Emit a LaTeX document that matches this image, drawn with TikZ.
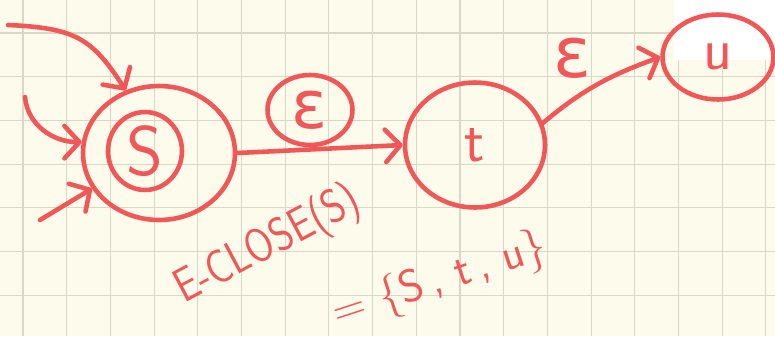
\documentclass[tikz,border=0pt]{standalone}
\usepackage{fontspec}
\usetikzlibrary{arrows.meta,positioning,shapes.geometric}
\newfontfamily\greek{DejaVu Sans}
\definecolor{paper}{HTML}{FDFBEC}
\definecolor{gridline}{HTML}{D9D7C8}
\definecolor{pen}{HTML}{F25757}
\newcommand{\hand}[1]{\fontsize{#1}{#1}\selectfont\sffamily}
\tikzset{
 every node/.append style={text=pen,inner sep=0pt},
 ink/.style={draw=pen,line width=2.6pt,line cap=round,line join=round},
 state/.style={ink,ellipse},
 edge/.style={ink,-{Straight Barb[length=3mm,width=6.5mm,round]}},
 grid line/.style={draw=gridline,line width=.6pt},
 scrawl/.style={font=\hand{27}},
}

\begin{document}
\begin{tikzpicture}[x=0.02cm,y=-0.02cm]
\useasboundingbox (0,0) rectangle (775,336);
\fill[paper] (0,0) rectangle (775,336);
\foreach \i in {0,...,17} \draw[grid line] ({23+43.7*\i},0) -- ++(0,336);
\foreach \j in {0,...,7} \draw[grid line] (0,{33+43.7*\j}) -- ++(775,0);
\fill[white] (674,0) rectangle (775,60);

% states
\node[state,minimum width=3.04cm,minimum height=2.68cm] (s) at (159,153) {};
\node[state,minimum width=1.48cm,minimum height=1.56cm,font=\hand{40}] (sin) at (145,151) {S};
\node[state,minimum width=2.8cm,minimum height=2.5cm,font=\hand{34}] (t) at (475,145) {t};
\node[state,minimum width=2.22cm,minimum height=1.7cm,font=\hand{34}] (u) at (718,57) {u};

% entry arrows
\coordinate (in1) at (8,25);
\coordinate (in2) at (25,97);
\coordinate (in3) at (40,220);
\draw[edge] (in1) .. controls (75,28) and (92,38) .. (s.118);
\draw[edge] (in2) to[out=-85,in=180] (s.172);
\draw[edge] (in3) -- (s.208);

% transitions
\draw[edge] (s.east) -- (t.west);
\node[state,minimum width=1.7cm,minimum height=1.4cm,font=\greek\fontsize{38}{38}\selectfont] (e1) at (310,110) {ε};
\draw[edge] (t.18) to[out=40,in=200] (u.west);
\node[font=\greek\fontsize{40}{40}\selectfont] (e2) at (572,58) {ε};

% closure
\node[scrawl,rotate=28,xscale=.85] (close) at (268,246) {E-CLOSE(S)};
\node[scrawl,rotate=18,font=\hand{26}] (set) at (440,281) {= \{S\,, t\,, u\}};
\end{tikzpicture}
\end{document}
